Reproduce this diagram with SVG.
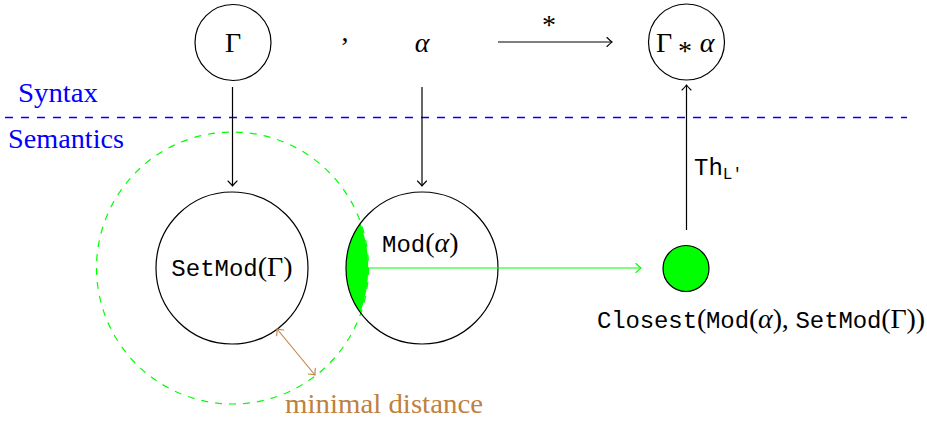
<svg xmlns="http://www.w3.org/2000/svg" width="927" height="421" viewBox="0 0 927 421">
<style>
.node{fill:none;stroke:#000;stroke-width:1.2}
.rm{font-family:"Liberation Serif",serif;font-size:28px;font-style:normal}
.it{font-family:"Liberation Serif",serif;font-style:italic;font-size:28px}
.tt{font-family:"Liberation Mono",monospace;font-size:24px}
.conn{stroke:#000;stroke-width:1.2;fill:none}
</style>
<defs>
<marker id="ab" viewBox="-7 -6 8 12" refX="0" refY="0" markerWidth="8" markerHeight="12" markerUnits="userSpaceOnUse" orient="auto-start-reverse">
<path d="M -5 -4.5 Q -1.5 -1 0 0 Q -1.5 1 -5 4.5" fill="none" stroke="#000" stroke-width="1.1" stroke-linecap="round"/>
</marker>
<marker id="ag" viewBox="-7 -6 8 12" refX="0" refY="0" markerWidth="8" markerHeight="12" markerUnits="userSpaceOnUse" orient="auto-start-reverse">
<path d="M -5 -4.5 Q -1.5 -1 0 0 Q -1.5 1 -5 4.5" fill="none" stroke="#00ff00" stroke-width="1.1" stroke-linecap="round"/>
</marker>
<marker id="abr" viewBox="-7 -6 8 12" refX="0" refY="0" markerWidth="8" markerHeight="12" markerUnits="userSpaceOnUse" orient="auto-start-reverse">
<path d="M -5 -4.5 Q -1.5 -1 0 0 Q -1.5 1 -5 4.5" fill="none" stroke="#bf8040" stroke-width="1.1" stroke-linecap="round"/>
</marker>
</defs>

<!-- separator -->
<line x1="5" y1="117.5" x2="907" y2="117.5" stroke="#0000ff" stroke-width="1.3" stroke-dasharray="8 8"/>
<text class="rm" x="18" y="102" fill="#0000ff" textLength="80" lengthAdjust="spacingAndGlyphs">Syntax</text>
<text class="rm" x="8" y="148" fill="#0000ff" textLength="116" lengthAdjust="spacingAndGlyphs">Semantics</text>

<!-- dashed neighbourhood -->
<circle cx="232.5" cy="268" r="136" fill="none" stroke="#00ff00" stroke-width="1.2" stroke-dasharray="7 7"/>

<g id="gamma">
<circle class="node" cx="233" cy="42.5" r="38"/>
<text class="rm" x="233" y="52" text-anchor="middle">Γ</text>
</g>
<g id="comma"><text class="rm" x="345" y="41" text-anchor="middle">,</text></g>
<g id="alpha"><text class="it" x="422" y="52" text-anchor="middle">α</text></g>
<g id="gammastar">
<circle class="node" cx="686.5" cy="42" r="38"/>
<text class="rm" x="664" y="52" text-anchor="middle">Γ</text>
<text class="rm" x="685" y="60" text-anchor="middle">*</text>
<text class="it" x="707" y="52" text-anchor="middle">α</text>
</g>

<g id="setmod">
<circle class="node" cx="232" cy="268" r="76"/>
<text class="rm" x="232" y="276" text-anchor="middle"><tspan class="tt">SetMod</tspan>(Γ)</text>
</g>

<g id="mod">
<path d="M 360.5 223.4 A 76 76 0 0 0 360.5 312.6 A 136 136 0 0 0 360.5 223.4 Z" fill="#00ff00"/>
<circle class="node" cx="422" cy="268" r="76"/>
<text class="rm" x="382" y="252"><tspan class="tt">Mod</tspan>(<tspan class="it">α</tspan>)</text>
</g>

<g id="closest">
<circle cx="686" cy="268.5" r="23" fill="#00ff00" stroke="#000" stroke-width="1.2"/>
<text class="rm" x="597" y="328" textLength="328" lengthAdjust="spacing"><tspan class="tt">Closest</tspan>(<tspan class="tt">Mod</tspan>(<tspan class="it">α</tspan>), <tspan class="tt">SetMod</tspan>(Γ))</text>
</g>

<g id="connectors">
<line class="conn" x1="498" y1="42" x2="612" y2="42" marker-end="url(#ab)"/>
<text class="rm" x="549" y="34" text-anchor="middle">*</text>
<line class="conn" x1="232.5" y1="87" x2="232.5" y2="186" marker-end="url(#ab)"/>
<line class="conn" x1="422" y1="87" x2="422" y2="186" marker-end="url(#ab)"/>
<line class="conn" x1="686.5" y1="230" x2="686.5" y2="85" marker-end="url(#ab)"/>
<text x="694" y="175"><tspan class="tt">Th</tspan><tspan font-family="Liberation Mono,monospace" font-size="16" dy="4">L′</tspan></text>
<line x1="368" y1="268" x2="641" y2="268" stroke="#00ff00" stroke-width="1.2" marker-end="url(#ag)"/>
<line x1="277" y1="329" x2="315" y2="375" stroke="#bf8040" stroke-width="1.1" marker-start="url(#abr)" marker-end="url(#abr)"/>
<text class="rm" x="285" y="413" fill="#bf8040" textLength="198" lengthAdjust="spacingAndGlyphs">minimal distance</text>
</g>
</svg>
